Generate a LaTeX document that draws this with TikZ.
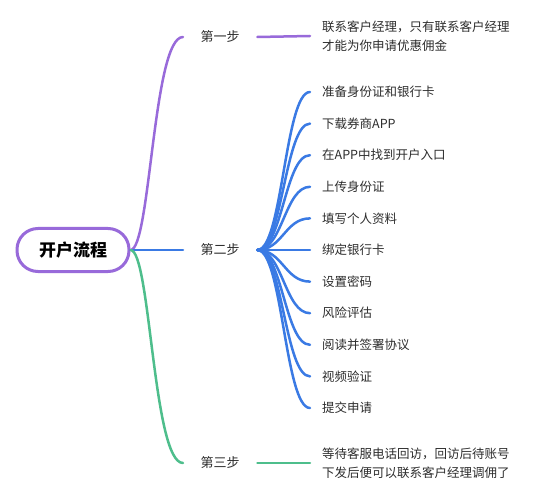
\documentclass[tikz,border=0pt]{standalone}
\usepackage{fontspec}
\setmainfont{Noto Sans CJK SC}
\definecolor{cpurple}{RGB}{152,106,218}
\definecolor{cblue}{RGB}{58,122,228}
\definecolor{cgreen}{RGB}{78,190,140}
\definecolor{ctext}{RGB}{45,45,45}
\begin{document}
\begin{tikzpicture}[x=1pt,y=-1pt,
  txt/.style={text=ctext, font=\fontsize{12.5}{19.5}\selectfont},
  stepnode/.style={txt, font=\fontsize{13}{19.5}\selectfont, inner xsep=0pt, inner ysep=4pt, minimum width=74pt, anchor=west},
  leaf/.style={txt, anchor=west, inner xsep=12pt, align=left},
  conn/.style={line width=2.5pt, line cap=round},
  fan/.style={conn, cblue},
]
\useasboundingbox[fill=white] (0,0) rectangle (536,500);
\node[draw=cpurple, line width=3pt, rounded corners=21pt, minimum width=112pt, minimum height=43pt,
      text=black, font=\fontsize{17}{20}\selectfont\bfseries] (root) at (73,250) {开户流程};

\node[stepnode] (s1) at (183,37) {第一步};
\node[stepnode] (s2) at (183,250) {第二步};
\node[stepnode] (s3) at (183,463) {第三步};

\node[leaf] (p1) at (310,36) {联系客户经理，只有联系客户经理\\才能为你申请优惠佣金};
\node[leaf] (g1) at (310,463) {等待客服电话回访，回访后待账号\\下发后便可以联系客户经理调佣了};

\node[leaf] (b1) at (310,92) {准备身份证和银行卡};
\node[leaf] (b2) at (310,123.6) {下载券商APP};
\node[leaf] (b3) at (310,155.2) {在APP中找到开户入口};
\node[leaf] (b4) at (310,186.8) {上传身份证};
\node[leaf] (b5) at (310,218.4) {填写个人资料};
\node[leaf] (b6) at (310,250) {绑定银行卡};
\node[leaf] (b7) at (310,281.6) {设置密码};
\node[leaf] (b8) at (310,313.2) {风险评估};
\node[leaf] (b9) at (310,344.8) {阅读并签署协议};
\node[leaf] (b10) at (310,376.4) {视频验证};
\node[leaf] (b11) at (310,408) {提交申请};

\draw[conn, cpurple] (root.east) .. controls +(20,0) and +(-30,0) .. (s1.west);
\draw[conn, cblue] (root.east) -- (s2.west);
\draw[conn, cgreen] (root.east) .. controls +(20,0) and +(-30,0) .. (s3.west);

\draw[conn, cpurple] (s1.east) -- (p1.west);
\draw[conn, cgreen] (s3.east) -- (g1.west);

\foreach \i in {1,...,11}{
  \draw[fan] (s2.east) .. controls +(25,0) and +(-25,0) .. (b\i.west);
}
\end{tikzpicture}
\end{document}
